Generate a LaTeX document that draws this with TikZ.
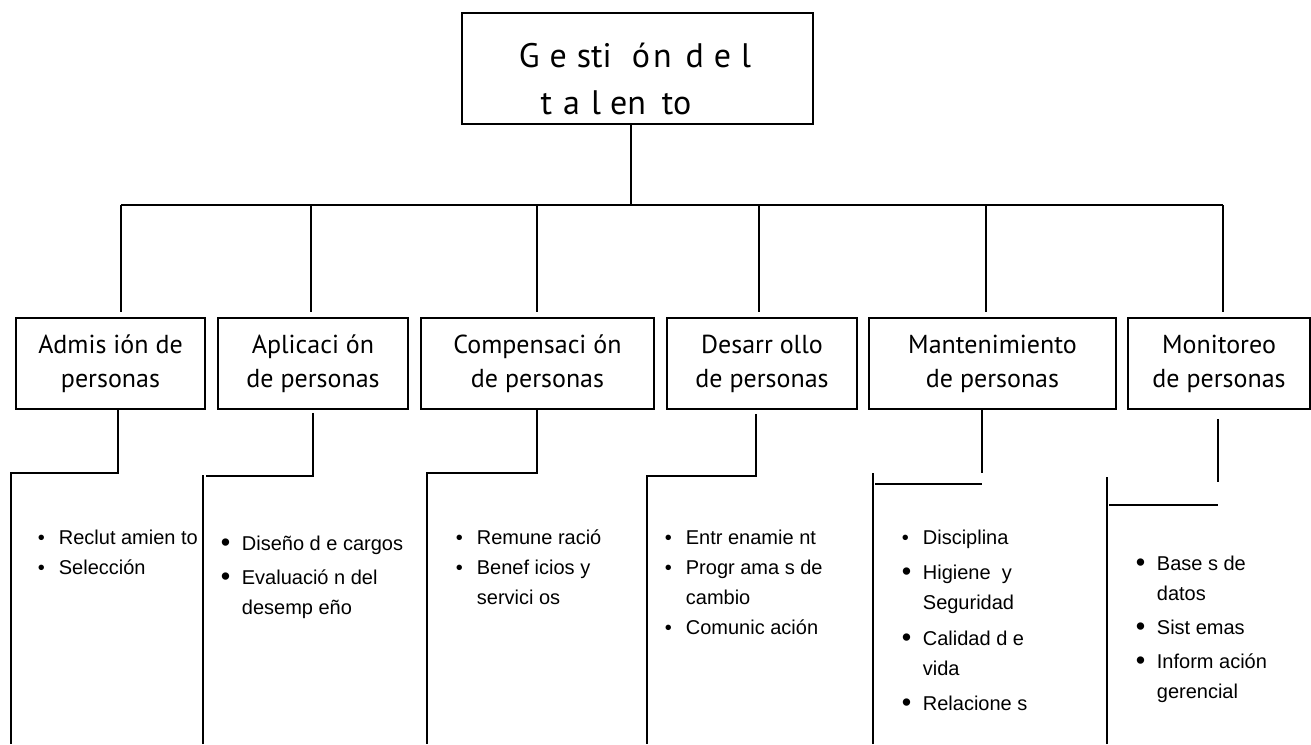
\documentclass[tikz,border=0pt]{standalone}
\usepackage{fontspec}
\setmainfont{PT Sans}
\newfontfamily\listafont{Liberation Sans}
\usepackage{tikz}
\usetikzlibrary{positioning}

% vinetas chica y grande
\newcommand{\vch}{\makebox[21pt][l]{\textbullet}}
\newcommand{\vgr}{\makebox[21pt][l]{\fontsize{27}{30}\selectfont\raisebox{-1pt}{\textbullet}}}

\begin{document}
\begin{tikzpicture}[
x = 1pt, y = -1pt, % coordenadas en pixeles
line width = 1.8pt,
every node/.style = {inner sep = 0pt}
]

\tikzstyle{caja}=[
draw = black,
rectangle,
minimum height = 91pt,
align = center,
font = \fontsize{26}{34}\selectfont
]
\tikzstyle{lista}=[
anchor = base west,
font = \listafont\fontsize{20}{30}\selectfont
]

\useasboundingbox (0,0) rectangle (1311,744);

\node[draw, minimum width=351pt, minimum height=111pt] (raiz) at (637.5,68.5) {};
\node[align=center, font=\fontsize{34}{47}\selectfont] (titulo) at (635,79)
  {G\hspace{10pt}e\hspace{10pt}sti\hspace{20pt}ó\hspace{3pt}n\hspace{14pt}d\hspace{10pt}e\hspace{10pt}l\\
   t\hspace{11pt}a\hspace{11pt}l\hspace{9pt}en\hspace{16pt}to\hspace*{38pt}};

\node[caja, minimum width=189pt] (adm) at (110.5,363.5) {Admis ión de\\personas};
\node[caja, minimum width=190pt] (apl) at (313,363.5) {Aplicaci ón\\de personas};
\node[caja, minimum width=233pt] (com) at (537.5,363.5) {Compensaci ón\\de personas};
\node[caja, minimum width=190pt] (des) at (762,363.5) {Desarr ollo\\de personas};
\node[caja, minimum width=247pt] (man) at (992.5,363.5) {Mantenimiento\\de personas};
\node[caja, minimum width=182pt] (mon) at (1219,363.5) {Monitoreo\\de personas};

% bus
\coordinate (t0) at (631,205);
\coordinate (t1) at (121,205);
\coordinate (t2) at (311,205);
\coordinate (t3) at (537,205);
\coordinate (t4) at (759,205);
\coordinate (t5) at (986,205);
\coordinate (t6) at (1223,205);

\draw (raiz.south -| t0) -- (t0);
\draw (t1) -- (t6);
\foreach \n/\c in {1/adm,2/apl,3/com,4/des,5/man,6/mon}
  \draw[shorten >=5pt] (t\n) -- (t\n |- \c.north);

% esquinas de las ramas inferiores
\coordinate (s1) at (118,473);  \coordinate (e1) at (11,744);
\coordinate (s2) at (313,476);  \coordinate (e2) at (203,744);
\coordinate (s3) at (537,473);  \coordinate (e3) at (427,744);
\coordinate (s4) at (756,476);  \coordinate (e4) at (647,744);
\coordinate (s5) at (982,473);  \coordinate (e5) at (873,744);
\coordinate (s6) at (1218,482); \coordinate (e6) at (1107,744);
\coordinate (h5) at (875,484);  \coordinate (h6) at (1109,505);

\draw (adm.south -| s1) -- (s1) -- (s1 -| e1) -- (e1);
\draw[shorten <=3pt] (apl.south -| s2) -- (s2) -- (206,476);
\draw (e2) -- (203,475);
\draw (com.south -| s3) -- (s3) -- (s3 -| e3) -- (e3);
\draw[shorten <=4pt] (des.south -| s4) -- (s4) -- (s4 -| e4) -- (e4);
\draw (man.south -| s5) -- (s5);
\draw (h5) -- (h5 -| s5);
\draw (e5) -- (s5 -| e5);
\draw[shorten <=9pt] (mon.south -| s6) -- (s6);
\draw (h6) -- (h6 -| s6);
\draw (e6) -- (1107,477);

% listas
\node[lista] (l1) at (37,544) {\begin{tabular}[t]{@{}l@{}}
\vch Reclut amien to\\
\vch Selección
\end{tabular}};

\node[lista] (l2) at (220,550) {\begin{tabular}[t]{@{}l@{}}
\vgr Diseño d e cargos\\[4pt]
\vgr Evaluació n del\\
\hspace*{21pt}desemp eño
\end{tabular}};

\node[lista] (l3) at (455,544) {\begin{tabular}[t]{@{}l@{}}
\vch Remune ració\\
\vch Benef icios y\\
\hspace*{21pt}servici os
\end{tabular}};

\node[lista] (l4) at (664,544) {\begin{tabular}[t]{@{}l@{}}
\vch Entr enamie nt\\
\vch Progr ama s de\\
\hspace*{21pt}cambio\\
\vch Comunic ación
\end{tabular}};

\node[lista] (l5) at (901,544) {\begin{tabular}[t]{@{}l@{}}
\vch Disciplina\\[5pt]
\vgr Higiene \ y\\
\hspace*{21pt}Seguridad\\[6pt]
\vgr Calidad d e\\
\hspace*{21pt}vida\\[5pt]
\vgr Relacione s
\end{tabular}};

\node[lista] (l6) at (1135,570) {\begin{tabular}[t]{@{}l@{}}
\vgr Base s de\\
\hspace*{21pt}datos\\[4pt]
\vgr Sist emas\\[4pt]
\vgr Inform ación\\
\hspace*{21pt}gerencial
\end{tabular}};

\end{tikzpicture}
\end{document}
